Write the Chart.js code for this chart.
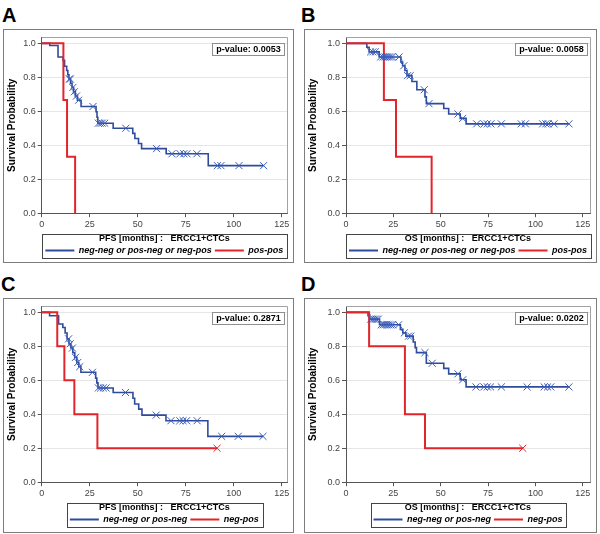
<!DOCTYPE html>
<html>
<head>
<meta charset="utf-8">
<title>ERCC1+CTCs survival curves</title>
<script src="https://cdn.jsdelivr.net/npm/chart.js@4.4.0/dist/chart.umd.min.js"></script>
<style>
  html, body { margin: 0; padding: 0; background: #fff; }
  body { width: 600px; height: 534px; position: relative; overflow: hidden;
         font-family: "Liberation Sans", Arial, Helvetica, sans-serif; }
  .tag { position: absolute; font-weight: bold; font-size: 20px; line-height: 1; color: #000; }
  .frame { position: absolute; border: 1px solid #7d7d7d; box-sizing: border-box; pointer-events: none; }
  .holder { position: absolute; }
  .holder canvas { display: block; }
</style>
</head>
<body>

<div class="tag" style="left:2px;top:5px">A</div>
<div class="tag" style="left:301px;top:5px">B</div>
<div class="tag" style="left:1px;top:274px">C</div>
<div class="tag" style="left:301px;top:274px">D</div>

<div class="holder" style="left:4px;top:30px"><canvas id="cA" width="289" height="236"></canvas></div>
<div class="holder" style="left:305px;top:30px"><canvas id="cB" width="291" height="236"></canvas></div>
<div class="holder" style="left:4px;top:299px"><canvas id="cC" width="289" height="236"></canvas></div>
<div class="holder" style="left:305px;top:299px"><canvas id="cD" width="291" height="236"></canvas></div>

<div class="frame" style="left:3px;top:29px;width:291px;height:234px"></div>
<div class="frame" style="left:304px;top:29px;width:293px;height:234px"></div>
<div class="frame" style="left:3px;top:298px;width:291px;height:235px"></div>
<div class="frame" style="left:304px;top:298px;width:293px;height:235px"></div>

<script>
// ---------- Axis ticks & labels ----------
const xTicks = [0, 25, 50, 75, 100, 125];
const yTicks = [0, 0.2, 0.4, 0.6, 0.8, 1.0];

const groupsAB = ["neg-neg or pos-neg or neg-pos", "pos-pos"];
const groupsCD = ["neg-neg or pos-neg", "neg-pos"];
const pfsTitle = "PFS [months] :   ERCC1+CTCs";
const osTitle = "OS [months] :   ERCC1+CTCs";
const pValues = ["0.0053", "0.0058", "0.2871", "0.0202"];

// ---------- Kaplan-Meier steps [month, survival] and censor times ----------
// A: PFS
const aBlueSteps = [[0, 1], [4.2, 0.987], [8.5, 0.92], [11.1, 0.90], [11.9, 0.865], [13.0, 0.84],
  [13.6, 0.815], [14.2, 0.79], [15.0, 0.765], [15.8, 0.74], [16.6, 0.715], [17.5, 0.69],
  [18.6, 0.665], [20.5, 0.628], [28.3, 0.597], [28.8, 0.565], [29.2, 0.53], [37.2, 0.50],
  [47.4, 0.47], [48.5, 0.44], [50.4, 0.41], [52.0, 0.38], [64.8, 0.35], [86.7, 0.28], [115.5, 0.28]];
const aBlueCens = [14.4, 14.9, 16.2, 17.0, 18.1, 19.2, 26.7, 29.5, 30.5, 31.5, 32.8, 43.8,
  59.8, 67.8, 72.0, 74.0, 75.6, 80.8, 91.5, 93.3, 102.7, 115.5];
const aRedSteps = [[0, 1], [11.3, 0.667], [13.2, 0.333], [17.4, 0]];
const aRedCens = [];

// B: OS
const bBlueSteps = [[0, 1], [11.0, 0.977], [12.2, 0.95], [17.5, 0.92], [29.0, 0.89], [29.9, 0.868],
  [31.1, 0.84], [32.2, 0.81], [34.8, 0.775], [37.4, 0.727], [41.7, 0.685], [42.4, 0.645],
  [51.6, 0.616], [54.2, 0.584], [60.3, 0.558], [63.4, 0.526], [117.7, 0.526]];
const bBlueCens = [13.0, 14.2, 15.5, 18.3, 19.5, 20.5, 21.5, 22.5, 23.5, 24.5, 28.0, 30.5,
  32.5, 33.9, 41.3, 43.8, 59.1, 61.6, 69.0, 72.9, 74.6, 76.5, 82.0, 92.5, 94.7, 103.8,
  105.5, 106.7, 109.8, 117.7];
const bRedSteps = [[0, 1], [20.0, 0.667], [26.4, 0.333], [45.2, 0]];
const bRedCens = [];

// C: PFS
const cBlueSteps = [[0, 1], [4.1, 0.98], [8.8, 0.931], [11.0, 0.911], [12.2, 0.878], [13.2, 0.844],
  [14.2, 0.815], [15.2, 0.79], [16.2, 0.763], [17.2, 0.735], [18.3, 0.705], [19.3, 0.68],
  [20.4, 0.647], [28.1, 0.613], [28.7, 0.585], [29.3, 0.555], [37.2, 0.528], [47.5, 0.494],
  [48.4, 0.46], [50.5, 0.43], [52.2, 0.395], [64.7, 0.362], [86.5, 0.27], [115.2, 0.27]];
const cBlueCens = [14.0, 14.8, 16.0, 17.6, 18.8, 19.8, 26.4, 29.5, 30.7, 32.1, 33.5, 43.6,
  59.6, 67.3, 71.9, 73.6, 75.4, 80.9, 93.7, 102.3, 115.2];
const cRedSteps = [[0, 1], [8.1, 0.8], [11.8, 0.6], [17.0, 0.4], [29.0, 0.2], [91.3, 0.2]];
const cRedCens = [91.3];

// D: OS
const dBlueSteps = [[0, 1], [11.6, 0.985], [12.5, 0.96], [17.7, 0.927], [28.7, 0.90], [30.0, 0.879],
  [31.6, 0.86], [35.5, 0.825], [36.5, 0.792], [37.2, 0.763], [42.4, 0.70], [51.6, 0.67],
  [54.2, 0.638], [60.3, 0.603], [63.4, 0.561], [117.7, 0.561]];
const dBlueCens = [13.0, 14.0, 15.0, 16.0, 17.0, 18.6, 19.6, 20.6, 21.6, 22.6, 23.6, 24.6, 27.8,
  30.8, 33.0, 34.2, 41.7, 45.5, 59.1, 61.6, 68.6, 72.8, 74.6, 76.3, 82.0, 95.6, 104.6,
  106.4, 108.1, 117.7];
const dRedSteps = [[0, 1], [12.2, 0.8], [31.1, 0.4], [41.7, 0.2], [93.3, 0.2]];
const dRedCens = [93.3];

// ---------- Style ----------
const FONT = '"Liberation Sans", Arial, Helvetica, sans-serif';
const BLUE = "#2f4c9c";
const RED = "#e2252b";
const AXIS = "#555";

// ---------- Helpers ----------
const toXY = (steps) => steps.map(([x, y]) => ({ x, y }));

// survival value of a step curve at time t (censor marks sit on the curve)
function survAt(steps, t) {
  let s = steps[0][1];
  steps.forEach(([tt, v]) => { if (tt <= t) s = v; });
  return s;
}
const censorXY = (steps, times) => times.map(t => ({ x: t, y: survAt(steps, t) }));

// ---------- Plugins ----------
const plotFrame = {
  id: "plotFrame",
  beforeDatasetsDraw(chart) {
    const { ctx, chartArea: a } = chart;
    ctx.save();
    ctx.strokeStyle = "#a3a3a3";
    ctx.lineWidth = 1;
    ctx.beginPath();
    ctx.moveTo(a.left, Math.round(a.top) + 0.5);
    ctx.lineTo(Math.round(a.right) + 0.5, Math.round(a.top) + 0.5);
    ctx.lineTo(Math.round(a.right) + 0.5, a.bottom);
    ctx.stroke();
    ctx.restore();
  }
};

const pValueBox = {
  id: "pValueBox",
  afterDraw(chart, args, opts) {
    const { ctx, chartArea: a } = chart;
    const text = "p-value: " + opts.value;
    ctx.save();
    ctx.font = "bold 9px " + FONT;
    const w = Math.round(ctx.measureText(text).width + 7);
    const h = 12;
    const x = Math.round(a.right - 3 - w) + 0.5;
    const y = Math.round(a.top + 6) + 0.5;
    ctx.fillStyle = "#fff";
    ctx.fillRect(x, y, w, h);
    ctx.strokeStyle = "#8f8f8f";
    ctx.lineWidth = 1;
    ctx.strokeRect(x, y, w, h);
    ctx.fillStyle = "#000";
    ctx.textBaseline = "middle";
    ctx.textAlign = "center";
    ctx.fillText(text, x + w / 2, y + h / 2 + 0.5);
    ctx.restore();
  }
};

const legendBox = {
  id: "legendBox",
  afterDraw(chart) {
    const lg = chart.legend;
    if (!lg || !lg.legendHitBoxes.length) return;
    const hb = lg.legendHitBoxes;
    const left = Math.round(Math.min(...hb.map(b => b.left)) - 3) + 0.5;
    const right = Math.round(Math.max(...hb.map(b => b.left + b.width)) + 4) + 0.5;
    const top = Math.round(lg.top + 2) + 0.5;
    const bottom = Math.round(Math.max(...hb.map(b => b.top + b.height)) + 3) + 0.5;
    const ctx = chart.ctx;
    ctx.save();
    ctx.strokeStyle = "#444";
    ctx.lineWidth = 1;
    ctx.strokeRect(left, top, right - left, bottom - top);
    ctx.restore();
  }
};

// ---------- Chart factory ----------
function makePanel(p) {
  const datasets = [
    { label: p.names[0], data: toXY(p.blue), stepped: true, borderColor: BLUE, backgroundColor: BLUE,
      borderWidth: 1.6, pointRadius: 0, order: 2 },
    { label: p.names[1], data: toXY(p.red), stepped: true, borderColor: RED, backgroundColor: RED,
      borderWidth: 2, pointRadius: 0, order: 1 },
    { label: "censored", data: censorXY(p.blue, p.blueCens), showLine: false, pointStyle: "crossRot",
      pointRadius: 5, pointBorderWidth: 1, borderColor: "#3a5cb8", order: 0 },
    { label: "censored", data: censorXY(p.red, p.redCens), showLine: false, pointStyle: "crossRot",
      pointRadius: 5, pointBorderWidth: 1, borderColor: RED, order: 0 }
  ];

  return new Chart(document.getElementById(p.canvas), {
    type: "line",
    data: { datasets },
    plugins: [plotFrame, pValueBox, legendBox],
    options: {
      responsive: false,
      animation: false,
      events: [],
      layout: { padding: { left: 0, right: p.padR, top: 4, bottom: 1 } },
      scales: {
        x: {
          type: "linear", min: 0, max: p.xMax,
          afterBuildTicks: s => { s.ticks = xTicks.map(v => ({ value: v })); },
          afterFit: s => { s.height = 19; },
          grid: { drawOnChartArea: false, drawTicks: true, tickLength: 4, tickColor: AXIS },
          border: { color: AXIS, width: 1 },
          ticks: { color: "#444", padding: 2, maxRotation: 0, autoSkip: false,
                   font: { family: FONT, size: 9 } }
        },
        y: {
          min: 0, max: 1.035,
          afterBuildTicks: s => { s.ticks = yTicks.map(v => ({ value: v })); },
          afterFit: s => { s.width = p.yW; },
          grid: { color: "#e6e6e6", tickColor: AXIS, tickLength: 4 },
          border: { color: AXIS, width: 1 },
          ticks: { color: "#444", padding: 2, font: { family: FONT, size: 9 },
                   callback: v => Number(v).toFixed(1) },
          title: { display: true, text: "Survival Probability", color: "#000",
                   font: { family: FONT, size: 10, weight: "bold" }, padding: { top: 2, bottom: 0 } }
        }
      },
      plugins: {
        tooltip: { enabled: false },
        pValueBox: { value: p.pValue },
        legend: {
          position: "bottom",
          align: "center",
          fullSize: false,
          title: { display: true, text: p.title, color: "#000",
                   font: { family: FONT, size: 9, weight: "bold" }, padding: { top: 2, bottom: -2 } },
          labels: {
            boxWidth: 29, boxHeight: 2, padding: 3, color: "#000",
            font: { family: FONT, size: 9, style: "italic", weight: "bold" },
            generateLabels: chart => Chart.defaults.plugins.legend.labels.generateLabels(chart)
              .filter(l => l.datasetIndex < 2)
              .sort((a, b) => a.datasetIndex - b.datasetIndex)
              .map(l => Object.assign(l, { fillStyle: l.strokeStyle, lineWidth: 0 }))
          }
        }
      }
    }
  });
}

// ---------- Panels ----------
const panels = [
  { canvas: "cA", names: groupsAB, title: pfsTitle, pValue: pValues[0], blue: aBlueSteps,
    blueCens: aBlueCens, red: aRedSteps, redCens: aRedCens, yW: 37.7, padR: 4, xMax: 127.7 },
  { canvas: "cB", names: groupsAB, title: osTitle, pValue: pValues[1], blue: bBlueSteps,
    blueCens: bBlueCens, red: bRedSteps, redCens: bRedCens, yW: 41, padR: 3, xMax: 128.8 },
  { canvas: "cC", names: groupsCD, title: pfsTitle, pValue: pValues[2], blue: cBlueSteps,
    blueCens: cBlueCens, red: cRedSteps, redCens: cRedCens, yW: 37.7, padR: 4, xMax: 127.7 },
  { canvas: "cD", names: groupsCD, title: osTitle, pValue: pValues[3], blue: dBlueSteps,
    blueCens: dBlueCens, red: dRedSteps, redCens: dRedCens, yW: 41, padR: 3, xMax: 128.8 }
];

panels.forEach(makePanel);
</script>
</body>
</html>
